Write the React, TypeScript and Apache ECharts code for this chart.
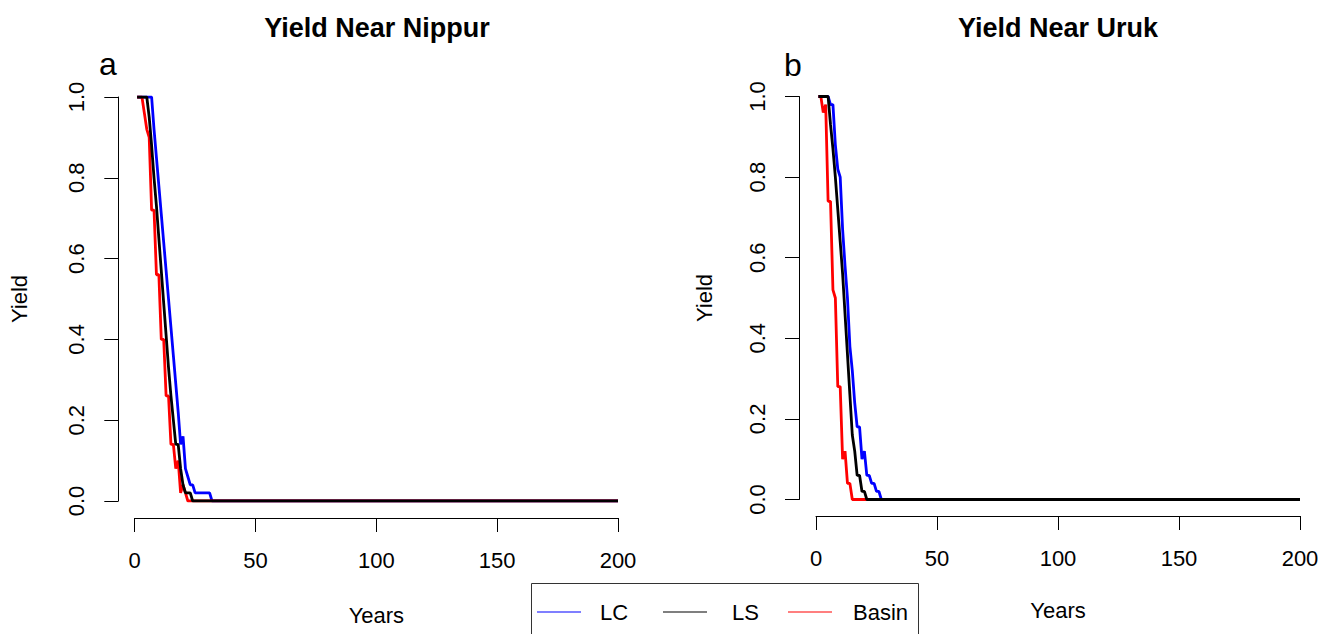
import React, { useEffect, useRef } from "react";
import * as echarts from "echarts";

// ---- Data (yield per simulated year, starting at year 1) ----
const END_YEAR = 200;
const xTicks = [0, 50, 100, 150, 200];
const yTicks = [0, 0.2, 0.4, 0.6, 0.8, 1.0];
const seriesNames = ["LC", "LS", "Basin"];
const panelTitles = ["Yield Near Nippur", "Yield Near Uruk"];
const panelLetters = ["a", "b"];

const nippurLC = [1, 1, 1, 1, 1, 1, 1, 0.92, 0.85, 0.78, 0.71, 0.64, 0.57, 0.5, 0.43, 0.36, 0.29, 0.22, 0.14, 0.16, 0.08, 0.06, 0.04, 0.04, 0.02, 0.02, 0.02, 0.02, 0.02, 0.02, 0.02, 0];
const nippurLS = [1, 1, 1, 1, 1, 0.95, 0.88, 0.8, 0.73, 0.65, 0.57, 0.49, 0.41, 0.33, 0.26, 0.2, 0.14, 0.14, 0.08, 0.04, 0.02, 0.02, 0.02, 0];
const nippurBasin = [1, 1, 1, 0.96, 0.92, 0.9, 0.72, 0.72, 0.56, 0.56, 0.4, 0.4, 0.26, 0.26, 0.14, 0.14, 0.08, 0.1, 0.02, 0.04, 0.02, 0];

const urukLC = [1, 1, 1, 1, 1, 0.98, 0.98, 0.88, 0.82, 0.8, 0.67, 0.58, 0.5, 0.38, 0.32, 0.24, 0.18, 0.18, 0.1, 0.12, 0.06, 0.06, 0.04, 0.04, 0.02, 0.02, 0];
const urukLS = [1, 1, 1, 1, 1, 0.93, 0.87, 0.8, 0.72, 0.64, 0.56, 0.46, 0.36, 0.26, 0.16, 0.12, 0.06, 0.06, 0.02, 0.02, 0];
const urukBasin = [1, 1, 0.96, 0.98, 0.74, 0.74, 0.52, 0.5, 0.28, 0.28, 0.1, 0.12, 0.04, 0.04, 0];

const COLORS: Record<string, string> = { LC: "#0000FF", LS: "#000000", Basin: "#FF0000" };
const FONT = "'Liberation Sans', Arial, Helvetica, sans-serif";

function toPoints(vals: number[]) {
  const pts = vals.map((v, i) => [i + 1, v]);
  pts.push([END_YEAR, 0]);
  return pts;
}

const panels = [
  { LC: nippurLC, LS: nippurLS, Basin: nippurBasin },
  { LC: urukLC, LS: urukLS, Basin: urukBasin },
];

export default function App() {
  const ref = useRef<HTMLDivElement>(null);
  useEffect(() => {
    if (!ref.current) return;
    const chart = echarts.init(ref.current, undefined, { renderer: "svg" });

    const grids = [
      { left: 134.7, top: 97, width: 483.3, height: 404 },
      { left: 816, top: 96.5, width: 484, height: 403 },
    ];
    const xOffsets = [17, 16.5];
    const yOffsets = [16.4, 17];
    const yNameGaps = [88, 84];
    const xNameGaps = [86, 83];
    const titleCenters = [377, 1058];
    const letterPos = [[108, 64], [793, 65]];

    const axisCommon = {
      axisLine: { show: true, onZero: false, lineStyle: { color: "#000", width: 1 } },
      axisTick: { show: true, length: 14, lineStyle: { color: "#000", width: 1 } },
      splitLine: { show: false },
    };

    const xAxis = grids.map((_, i) => ({
      type: "value",
      gridIndex: i,
      min: xTicks[0],
      max: xTicks[xTicks.length - 1],
      interval: 50,
      offset: xOffsets[i],
      ...axisCommon,
      axisLabel: { margin: 31, fontSize: 22, color: "#000", fontFamily: FONT, showMinLabel: true, showMaxLabel: true },
      name: "Years",
      nameLocation: "middle",
      nameGap: xNameGaps[i],
      nameTextStyle: { fontSize: 22, color: "#000", fontFamily: FONT },
    }));

    const yAxis = grids.map((_, i) => ({
      type: "value",
      gridIndex: i,
      min: yTicks[0],
      max: yTicks[yTicks.length - 1],
      interval: 0.2,
      offset: yOffsets[i],
      ...axisCommon,
      axisLabel: {
        margin: 31,
        rotate: 90,
        fontSize: 22,
        color: "#000",
        fontFamily: FONT,
        formatter: (v: number) => v.toFixed(1),
        showMinLabel: true,
        showMaxLabel: true,
      },
      name: "Yield",
      nameLocation: "middle",
      nameRotate: 90,
      nameGap: yNameGaps[i],
      nameTextStyle: { fontSize: 22, color: "#000", fontFamily: FONT },
    }));

    const drawOrder = ["LC", "Basin", "LS"];
    const series: any[] = [];
    panels.forEach((p: any, i) => {
      drawOrder.forEach((name) => {
        series.push({
          type: "line",
          name,
          xAxisIndex: i,
          yAxisIndex: i,
          data: toPoints(p[name]),
          showSymbol: false,
          symbol: "none",
          lineStyle: { color: COLORS[name], width: 2.8 },
          itemStyle: { color: COLORS[name] },
          silent: true,
        });
      });
    });

    // Legend box (R style)
    const legendX = [537, 663, 788];
    const legendTextX = [600, 732, 853];
    const legendY = 612;
    const graphics: any[] = [
      {
        type: "rect",
        shape: { x: 531.5, y: 583.5, width: 387, height: 80 },
        style: { fill: "#fff", stroke: "#333", lineWidth: 1 },
        z: 10,
      },
    ];
    seriesNames.forEach((n, i) => {
      graphics.push({
        type: "line",
        shape: { x1: legendX[i], y1: legendY, x2: legendX[i] + 44, y2: legendY },
        style: { stroke: COLORS[n], lineWidth: 1.2 },
        z: 11,
      });
      graphics.push({
        type: "text",
        x: legendTextX[i],
        y: legendY,
        style: { text: n, fontSize: 22, fill: "#000", fontFamily: FONT, verticalAlign: "middle", align: "left" },
        z: 11,
      });
    });
    panelLetters.forEach((l, i) => {
      graphics.push({
        type: "text",
        x: letterPos[i][0],
        y: letterPos[i][1],
        style: { text: l, fontSize: 32, fill: "#000", fontFamily: FONT, verticalAlign: "middle", align: "center" },
      });
    });

    chart.setOption({
      animation: false,
      backgroundColor: "#fff",
      title: panelTitles.map((t, i) => ({
        text: t,
        left: titleCenters[i],
        top: 14,
        padding: 0,
        textAlign: "center",
        textStyle: { fontSize: 27, fontWeight: "bold", color: "#000", fontFamily: FONT },
      })),
      grid: grids.map((g) => ({ ...g, containLabel: false, outerBoundsMode: "none" })),
      xAxis,
      yAxis,
      series,
      graphic: graphics,
    });
    return () => chart.dispose();
  }, []);
  return (
    <div
      ref={ref}
      style={{ position: "fixed", left: 0, top: 0, width: 1322, height: 634, background: "#fff" }}
    />
  );
}
